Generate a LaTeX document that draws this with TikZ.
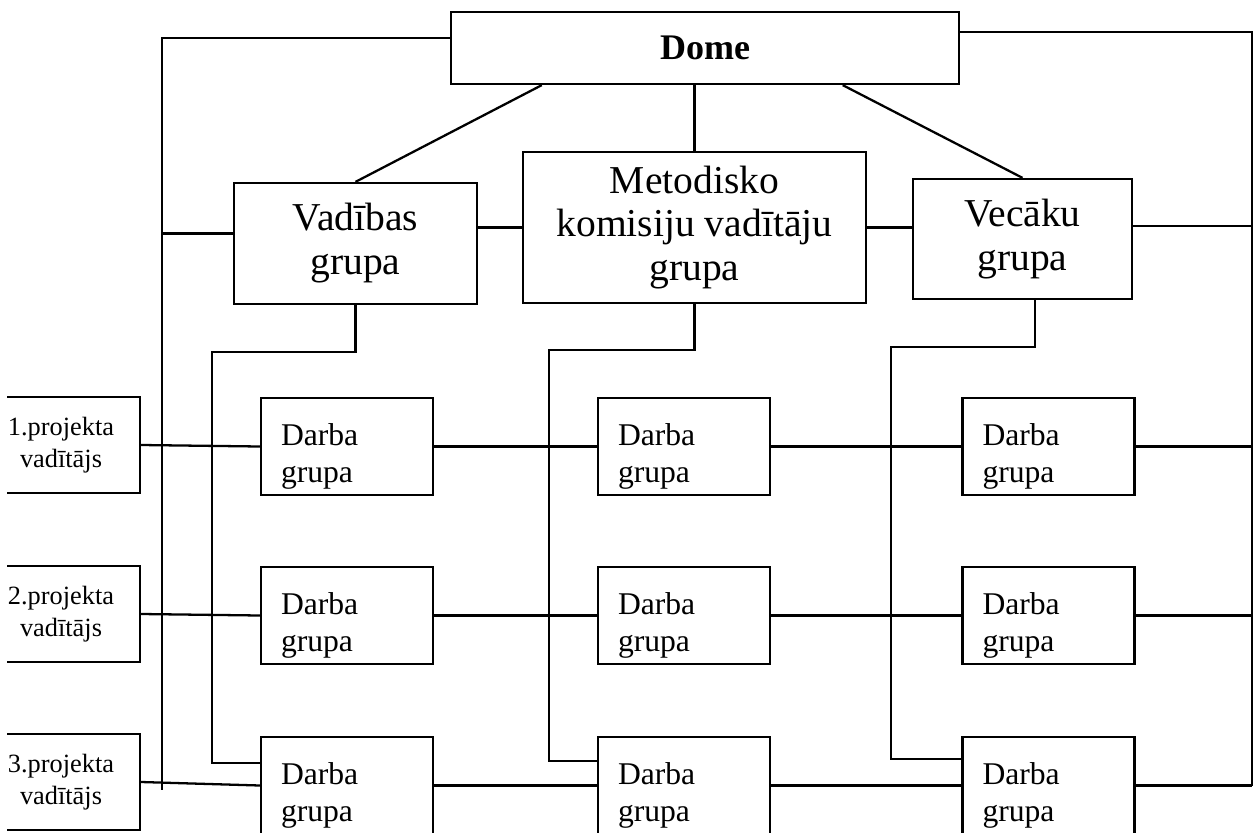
\documentclass[tikz,border=0pt]{standalone}
\usepackage{fontspec}
\setmainfont{Liberation Serif}
\usepackage{tikz}
\usetikzlibrary{positioning,calc}

\tikzset{
  box/.style={draw, rectangle, line width=1.3pt, align=center, inner sep=0pt},
  bigbox/.style={box, font=\fontsize{22.5}{25}\selectfont},
  darba/.style={box, minimum width=3.44cm, minimum height=1.94cm, text width=2.64cm, inner xsep=0.4cm, align=left, font=\fontsize{18}{21}\selectfont, execute at begin node={\rule{0pt}{0.85cm}}},
  proj/.style={box, minimum width=3.16cm, minimum height=1.92cm, font=\fontsize{15}{18}\selectfont}
}

\begin{document}
\begin{tikzpicture}[x=0.02cm, y=-0.02cm, line width=1.3pt]
    \useasboundingbox (0,0) rectangle (1257,832);
    \clip (7,0) rectangle (1257,832);

    % Dome
    \node [box, minimum width=10.16cm, minimum height=1.44cm, font=\fontsize{20.5}{24}\selectfont\bfseries] (dome) at (705,48) {Dome};

    % Groups under the Dome
    \node [bigbox, minimum width=4.86cm, minimum height=2.42cm] (vadibas) at (355.5,243.5) {Vadības\\grupa};
    \node [bigbox, minimum width=6.86cm, minimum height=3.02cm] (metod) at (694.5,227.5) {Metodisko\\komisiju vadītāju\\grupa};
    \node [bigbox, minimum width=4.38cm, minimum height=2.4cm] (vecaku) at (1022.5,239) {Vecāku\\grupa};

    % Project leaders
    \node [proj] (p1) at (61,445) {1.projekta\\vadītājs};
    \node [proj] (p2) at (61,614) {2.projekta\\vadītājs};
    \node [proj] (p3) at (61,782) {3.projekta\\vadītājs};

    % Darba groups
    \node [darba] (d11) at (347,446.5) {Darba\\grupa};
    \node [darba] (d12) at (347,615.5) {Darba\\grupa};
    \node [darba] (d13) at (347,785.5) {Darba\\grupa};
    \node [darba] (d21) at (684,446.5) {Darba\\grupa};
    \node [darba] (d22) at (684,615.5) {Darba\\grupa};
    \node [darba] (d23) at (684,785.5) {Darba\\grupa};
    \node [darba] (d31) at (1048.5,446.5) {Darba\\grupa};
    \node [darba] (d32) at (1048.5,615.5) {Darba\\grupa};
    \node [darba] (d33) at (1048.5,785.5) {Darba\\grupa};

    % Side lines
    \coordinate (ltop) at (162,38);
    \coordinate (lbot) at (162,790);
    \coordinate (rtop) at (1252,32);
    \draw (dome.west |- ltop) -- (ltop) -- (lbot);
    \draw (dome.east |- rtop) -- (rtop) -- (rtop |- d33.east);
    \draw ([yshift=0.2cm]vadibas.west) -- ([yshift=0.2cm]vadibas.west -| ltop);
    \draw ([yshift=0.26cm]vecaku.east) -- ([yshift=0.26cm]vecaku.east -| rtop);

    % Dome to the groups
    \draw ($(dome.south west)!0.18!(dome.south east)$) -- (vadibas.north);
    \draw (metod.north |- dome.south) -- (metod.north);
    \draw ($(dome.south west)!0.77!(dome.south east)$) -- (vecaku.north);
    \draw (vadibas.east |- metod.west) -- (metod.west);
    \draw (metod.east) -- (metod.east -| vecaku.west);

    % Groups down to the last Darba row
    \draw (vadibas.south) |- (212,352) |- ([yshift=0.45cm]d13.west);
    \draw (metod.south) |- (549,350) |- ([yshift=0.49cm]d23.west);
    \draw ([xshift=0.25cm]vecaku.south) |- (891,347) |- ([yshift=0.53cm]d33.west);

    % Rows
    \draw (p1.east) -- (d11.west);
    \draw (d11.east) -- (d21.west);
    \draw (d21.east) -- (d31.west);
    \draw (d31.east) -- (d31.east -| rtop);

    \draw (p2.east) -- (d12.west);
    \draw (d12.east) -- (d22.west);
    \draw (d22.east) -- (d32.west);
    \draw (d32.east) -- (d32.east -| rtop);

    \draw (p3.east) -- (d13.west);
    \draw (d13.east) -- (d23.west);
    \draw (d23.east) -- (d33.west);
    \draw (d33.east) -- (d33.east -| rtop);
\end{tikzpicture}
\end{document}
